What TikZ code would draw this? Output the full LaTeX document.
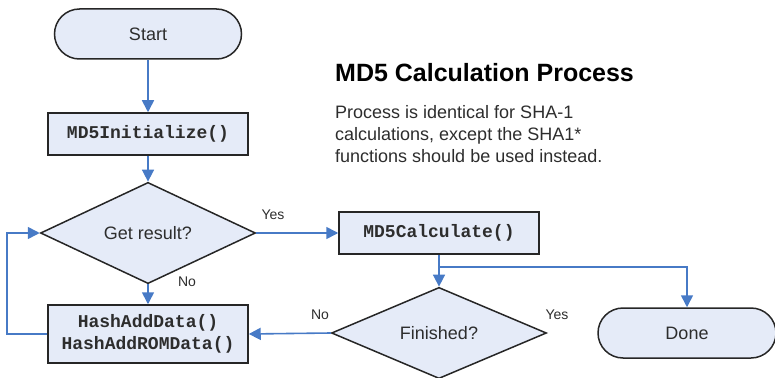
\documentclass[tikz,border=0pt]{standalone}
\usepackage{fontspec}
\setmainfont{Liberation Sans}
\setmonofont{Liberation Mono}
\usepackage{tikz}
\usetikzlibrary{arrows.meta,shapes.geometric}
\definecolor{flowblue}{RGB}{71,122,198}
\definecolor{boxfill}{RGB}{229,235,248}
\definecolor{textgray}{RGB}{45,45,45}

\begin{document}
\begin{tikzpicture}[x=1pt, y=-1pt,
    every node/.style={font=\fontsize{18}{22}\selectfont, text=textgray},
    terminal/.style={draw=black!85, line width=1.5pt, fill=boxfill, rectangle,
      rounded corners=25pt, minimum width=187pt, minimum height=50pt},
    process/.style={draw=black!85, line width=1.5pt, fill=boxfill, rectangle,
      minimum width=200pt, minimum height=42pt, align=center,
      font=\fontsize{18}{22}\selectfont\ttfamily\bfseries},
    decision/.style={draw=black!85, line width=1.5pt, fill=boxfill, diamond,
      minimum width=215pt, minimum height=90pt, inner sep=0pt},
    flow/.style={draw=flowblue, line width=1.6pt, -{Triangle[length=12pt,width=12pt]}},
    lbl/.style={font=\fontsize{14}{16}\selectfont}]
  \useasboundingbox (0,0) rectangle (775,377);

  % left column
  \node[terminal] (start) at (148,34) {Start};
  \node[process] (init) at (148,134) {MD5Initialize()};
  \node[decision] (getres) at (148,233) {Get result?};
  \node[process, minimum height=58pt] (hash) at (148,334) {HashAddData()\\HashAddROMData()};

  % right part
  \node[process] (calc) at (439,233) {MD5Calculate()};
  \node[decision] (fin) at (439,333) {Finished?};
  \node[terminal, minimum width=178pt] (done) at (687,333) {Done};

  \coordinate (back) at (7,334);
  \coordinate (split) at (439,267);

  \draw[flow] (start) -- (init);
  \draw[flow] (init) -- (getres);
  \draw[flow] (getres) -- (hash);
  \draw[flow] (hash.west) -- (back) |- (getres.west);
  \draw[flow] (getres.east) -- (calc.west);
  \draw[flow] (calc) -- (fin);
  \draw[flow] (split) -| (done.north);
  \draw[flow] (fin.west) -- (hash.east);

  \node[lbl] (yes1) at (273,215) {Yes};
  \node[lbl] (no1) at (187,282) {No};
  \node[lbl] (no2) at (320,315) {No};
  \node[lbl] (yes2) at (557,315) {Yes};

  % heading
  \node[anchor=base west, inner sep=0pt, text=black,
    font=\fontsize{25}{30}\selectfont\bfseries] (title) at (335,82) {MD5 Calculation Process};
  \node[anchor=north west, inner sep=0pt, align=left] (note) at (335,105)
    {Process is identical for SHA-1\\calculations, except the SHA1*\\functions should be used instead.};
\end{tikzpicture}
\end{document}
